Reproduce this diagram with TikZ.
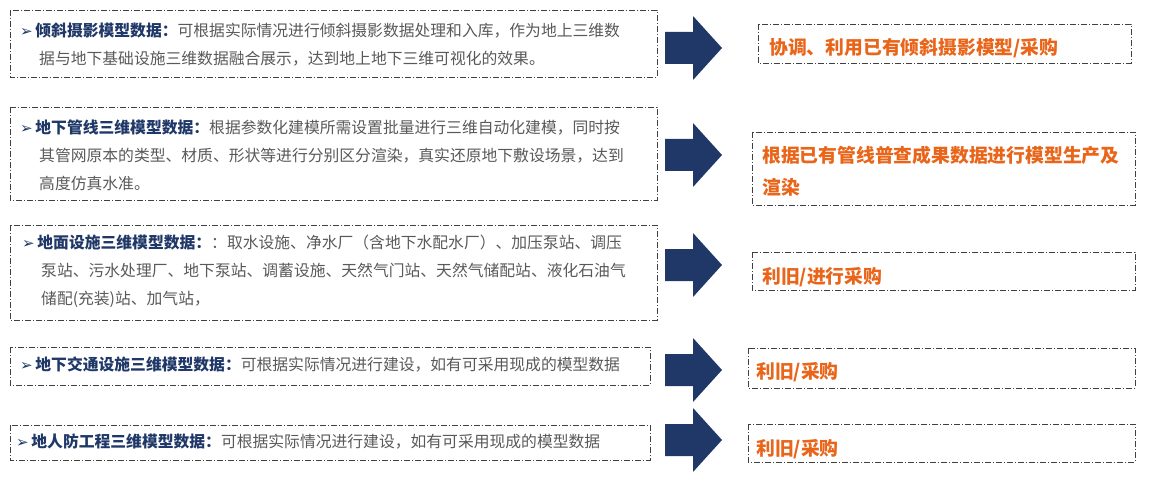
\documentclass[tikz,border=0pt]{standalone}
\usepackage{fontspec}
\setmainfont{Noto Sans CJK SC}
\newfontfamily\sym{DejaVu Sans}
\usepackage{xcolor}
\definecolor{navy}{HTML}{1F3868}
\definecolor{txtgray}{HTML}{595959}
\definecolor{hlorange}{HTML}{E8651A}
\tikzset{
  box/.style={draw=black!75, line width=0.9pt, dash pattern=on 6pt off 2pt on 1pt off 2pt},
  desc/.style={anchor=north west, inner sep=0pt, align=left, text=txtgray,
    font=\fontsize{15.8}{28}\selectfont},
  res/.style={anchor=west, inner sep=0pt, align=left, text=hlorange,
    font=\fontsize{18.8}{32}\selectfont\bfseries},
  bigarrow/.style={fill=navy}
}
\newcommand{\lead}[1]{{\color{navy}{\sym\fontsize{15}{15}\selectfont ➢}\,\textbf{#1}}}
\begin{document}
\begin{tikzpicture}[x=1pt,y=-1pt]
  \useasboundingbox (0,0) rectangle (1155,494);

  % left boxes
  \draw[box] (10,10) rectangle (657,77);
  \draw[box] (10,107) rectangle (657,200);
  \draw[box] (10,225) rectangle (657,320);
  \draw[box] (10,347) rectangle (650,385);
  \draw[box] (10,425) rectangle (650,460);

  \node[desc] (d1) at (20,23) {\lead{倾斜摄影模型数据：}可根据实际情况进行倾斜摄影数据处理和入库，作为地上三维数\\
    \hspace{19pt}据与地下基础设施三维数据融合展示，达到地上地下三维可视化的效果。};
  \node[desc] (d2) at (20,120) {\lead{地下管线三维模型数据：}根据参数化建模所需设置批量进行三维自动化建模，同时按\\
    \hspace{19pt}其管网原本的类型、材质、形状等进行分别区分渲染，真实还原地下敷设场景，达到\\
    \hspace{19pt}高度仿真水准。};
  \node[desc] (d3) at (22,235) {\lead{地面设施三维模型数据：}：取水设施、净水厂（含地下水配水厂）、加压泵站、调压\\
    \hspace{19pt}泵站、污水处理厂、地下泵站、调蓄设施、天然气门站、天然气储配站、液化石油气\\
    \hspace{19pt}储配(充装)站、加气站，};
  \node[desc] (d4) at (20,357) {\lead{地下交通设施三维模型数据：}可根据实际情况进行建设，如有可采用现成的模型数据};
  \node[desc] (d5) at (16,434) {\lead{地人防工程三维模型数据：}可根据实际情况进行建设，如有可采用现成的模型数据};

  % arrows
  \foreach \yy in {48,155,265,370,440}{
    \fill[bigarrow] (665,\yy-16) -- (693,\yy-16) -- (693,\yy-32) -- (722,\yy)
      -- (693,\yy+32) -- (693,\yy+16) -- (665,\yy+16) -- cycle;
  }

  % right boxes
  \draw[box] (758,24) rectangle (1131,63);
  \draw[box] (752,132) rectangle (1135,205);
  \draw[box] (752,252) rectangle (1135,290);
  \draw[box] (748,348) rectangle (1135,388);
  \draw[box] (748,424) rectangle (1135,462);

  \node[res] (r1) at (769,48) {协调、利用已有倾斜摄影模型/采购};
  \node[res] (r2) at (762,171) {根据已有管线普查成果数据进行模型生产及\\渲染};
  \node[res] (r3) at (762,277) {利旧/进行采购};
  \node[res] (r4) at (756,372) {利旧/采购};
  \node[res] (r5) at (756,449) {利旧/采购};
\end{tikzpicture}
\end{document}
